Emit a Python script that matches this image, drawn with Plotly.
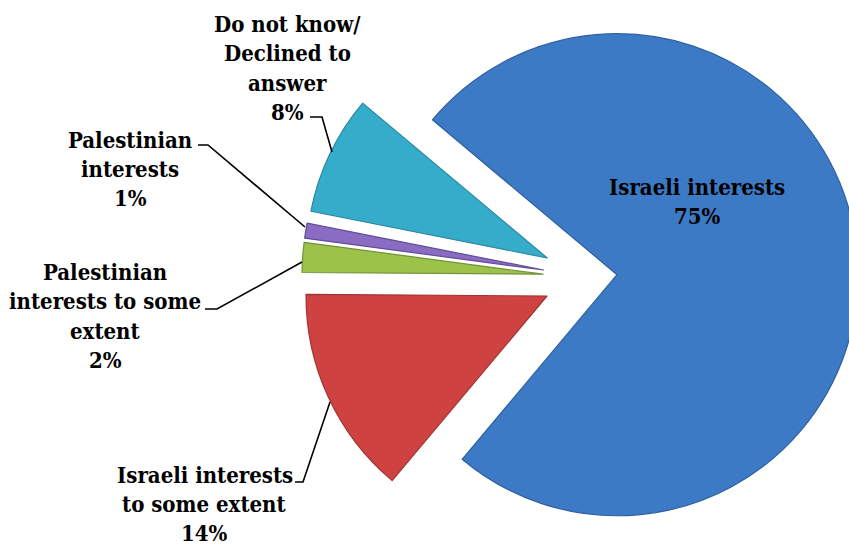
import math
import plotly.graph_objects as go

# Survey answers and their shares
categories = [
    "Israeli interests",
    "Israeli interests to some extent",
    "Palestinian interests to some extent",
    "Palestinian interests",
    "Do not know/ Declined to answer",
]
shares = [75, 14, 2, 1, 8]

# Label text lines for each slice (the share is appended as the last line)
label_lines = [
    ["Israeli interests"],
    ["Israeli interests", "to some extent"],
    ["Palestinian", "interests to some", "extent"],
    ["Palestinian", "interests"],
    ["Do not know/", "Declined to", "answer"],
]

slice_colors = ["#3C7AC6", "#CE4341", "#9CC24A", "#8A6CC2", "#35ADCA"]
edge_colors = ["#2E609F", "#A03432", "#72923A", "#634C98", "#2A88A2"]
explode = [0.123, 0.185, 0.185, 0.185, 0.185]

W, H = 860, 546
R = 241.0                 # pie radius in px
CX, CY = 587.5, 277.3     # pie centre in px
ROTATION = -50            # first slice starts 50 deg left of 12 o'clock

FONT_SIZE = 22
LABEL_FONT = dict(family="DejaVu Serif Condensed, DejaVu Serif", size=FONT_SIZE,
                  color="#000000")
LINE_GAP = 29.2           # baseline-to-baseline spacing of label lines

total = float(sum(shares))


def px_x(x):
    return x / W


def px_y(y):
    return 1 - y / H


fig = go.Figure()

# One pie per answer so each slice can be pushed out on its own
cum = 0.0
for k, v in enumerate(shares):
    start = ROTATION + 360.0 * cum / total
    mid = start + 180.0 * v / total
    cum += v
    d = explode[k] * R
    a = math.radians(mid)
    cx = CX + math.sin(a) * d
    cy = CY - math.cos(a) * d

    colors = ["rgba(0,0,0,0)"] * len(shares)
    colors[k] = slice_colors[k]
    lcolors = ["rgba(0,0,0,0)"] * len(shares)
    lcolors[k] = edge_colors[k]
    lwidths = [0] * len(shares)
    lwidths[k] = 1.2

    fig.add_trace(go.Pie(
        labels=categories,
        values=shares,
        sort=False,
        direction="clockwise",
        rotation=ROTATION,
        textinfo="none",
        hoverinfo="skip",
        showlegend=False,
        marker=dict(colors=colors, line=dict(color=lcolors, width=lwidths)),
        domain=dict(
            x=[px_x(cx - R), px_x(cx + R)],
            y=[px_y(cy + R), px_y(cy - R)],
        ),
    ))

# Label anchor: centre x and first-line baseline (px); leader-line elbows (px)
label_pos = [(697, 194.5), (204.5, 482), (105, 279.5), (130, 147), (287, 31.5)]
leaders = [
    None,
    [(295, 482), (303, 482), (330, 402)],
    [(205, 309), (217, 309), (302, 262)],
    [(198, 145), (208, 145), (305, 227)],
    [(310, 117), (322, 117), (332, 152)],
]

for k, v in enumerate(shares):
    lines = label_lines[k] + [f"{v}%"]
    lx, base = label_pos[k]
    for i, line in enumerate(lines):
        by = base + i * LINE_GAP
        fig.add_annotation(
            x=px_x(lx), y=px_y(by - 0.33 * FONT_SIZE), xref="paper", yref="paper",
            text=f"<b>{line}</b>", showarrow=False, xanchor="center", yanchor="middle",
            font=LABEL_FONT,
        )
    if leaders[k]:
        pts = leaders[k]
        path = "M " + " L ".join(f"{px_x(x):.5f},{px_y(y):.5f}" for x, y in pts)
        fig.add_shape(type="path", path=path, xref="paper", yref="paper",
                      line=dict(color="#000000", width=1.6))

fig.update_layout(
    width=W, height=H,
    margin=dict(l=0, r=0, t=0, b=0),
    paper_bgcolor="#FFFFFF",
    plot_bgcolor="#FFFFFF",
)

fig.write_html("out.html")
